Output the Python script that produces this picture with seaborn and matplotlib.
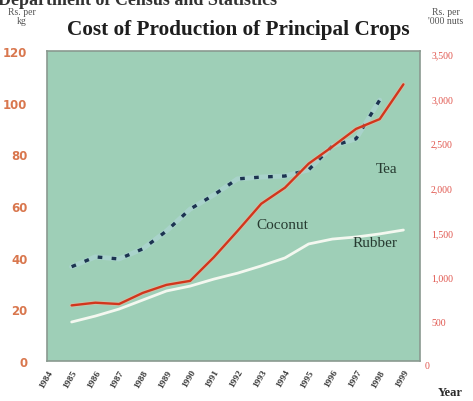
import matplotlib
matplotlib.use("Agg")
import matplotlib.pyplot as plt
import pandas as pd
import seaborn as sb

years = list(range(1985, 2000))
tick_years = list(range(1984, 2000))

# Rs per kg (left axis)
tea = [36.5, 40.3, 39.5, 43.4, 50.3, 58.8, 64.3, 70.5, 71.2, 71.6, 74.0, 83.2, 86.0, 101.0, None]
rubber = [15.1, 17.4, 20.1, 23.6, 27.1, 29.0, 31.7, 34.0, 36.8, 39.9, 45.3, 47.2, 48.0, 49.2, 50.7]
# Rs per '000 nuts (right axis)
coconut = [680, 710, 695, 820, 910, 955, 1220, 1515, 1820, 2000, 2270, 2460, 2660, 2770, 3160]

left_ticks = [0, 20, 40, 60, 80, 100, 120]
right_ticks = [0, 500, 1000, 1500, 2000, 2500, 3000, 3500]

dfCrops = pd.DataFrame({"year": years, "tea": tea, "rubber": rubber, "coconut": coconut})

sb.set_style("white")
plt.rcParams['font.family'] = ['Liberation Serif', 'DejaVu Serif']

fig = plt.figure(figsize=(4.73, 4.02), dpi=100)
ax = fig.add_axes([47 / 473, 40 / 402, 373 / 473, 310 / 402])
ax.set_facecolor('#9ecfb7')
for s in ax.spines.values():
    s.set_color('#8a9a90')
    s.set_linewidth(1.2)

# tea - dotted with pale halo
sb.lineplot(data=dfCrops, x="year", y="tea", ax=ax, color='#b8d8e4', linewidth=3.5, alpha=0.45)
sb.lineplot(data=dfCrops, x="year", y="tea", ax=ax, color='#1c3350', linewidth=2.4,
            linestyle=(0, (1.4, 2.8)))
sb.lineplot(data=dfCrops, x="year", y="rubber", ax=ax, color='#f4f8f0', linewidth=2.0)

ax.set_xlim(1983.96, 1999.7)
ax.set_ylim(0, 120)
ax.set_yticks(left_ticks)
ax.set_yticklabels([str(v) for v in left_ticks], family='DejaVu Sans', color='#d9774e',
                   fontsize=8.5, fontweight='bold')
ax.set_xticks(tick_years)
ax.set_xticklabels([str(y) for y in tick_years], rotation=60, ha='right', rotation_mode='anchor',
                   fontsize=6.8, fontweight='bold', color='#3a3a3a')
ax.tick_params(axis='x', length=2, color='#6a7a70', pad=3)
ax.tick_params(axis='y', length=0, pad=14)
ax.set_xlabel("")
ax.set_ylabel("")

ax2 = ax.twinx()
sb.lineplot(data=dfCrops, x="year", y="coconut", ax=ax2, color='#f3b9a0', linewidth=3.0, alpha=0.5)
sb.lineplot(data=dfCrops, x="year", y="coconut", ax=ax2, color='#d2361c', linewidth=1.7)
ax2.set_ylim(56, 3534)
ax2.set_yticks(right_ticks[1:])
ax2.set_yticklabels([format(v, ',') for v in right_ticks[1:]], color='#e0544c', fontsize=7)
ax2.tick_params(axis='y', length=0, pad=8)
ax2.set_ylabel("")
# the zero of the right scale sits just below the frame
ax2.text(1.0, 0, "  " + format(right_ticks[0], ','), transform=ax2.get_yaxis_transform(),
         color='#e0544c', fontsize=7, ha='left', va='center', clip_on=False)
for s in ax2.spines.values():
    s.set_visible(False)

ax.text(0.91, 0.61, "Tea", transform=ax.transAxes, fontsize=11, color='#263a30', ha='center')
ax.text(0.63, 0.43, "Coconut", transform=ax.transAxes, fontsize=11, color='#263a30', ha='center')
ax.text(0.88, 0.37, "Rubber", transform=ax.transAxes, fontsize=11, color='#263a30', ha='center')

fig.text(238 / 473, 1 - 30 / 402, "Cost of Production of Principal Crops", ha='center', va='center',
         fontsize=15.3, fontweight='bold', color='#1e1e1e')
fig.text(22 / 473, 1 - 17 / 402, "Rs. per\nkg", ha='center', va='center', fontsize=7,
         color='#555555', linespacing=1.0)
fig.text(446 / 473, 1 - 17 / 402, "Rs. per\n'000 nuts", ha='center', va='center', fontsize=7,
         color='#555555', linespacing=1.0)
fig.text(450 / 473, 1 - 393 / 402, "Year", ha='center', va='center', fontsize=9,
         fontweight='bold', color='#2a2a2a')
# running header of the page, mostly cut off by the top edge
fig.text(-2 / 473, 1 - 5 / 402, "Department of Census and Statistics", ha='left', va='baseline',
         fontsize=13, fontweight='bold', color='#333333')

fig.savefig("out.png", dpi=100)
